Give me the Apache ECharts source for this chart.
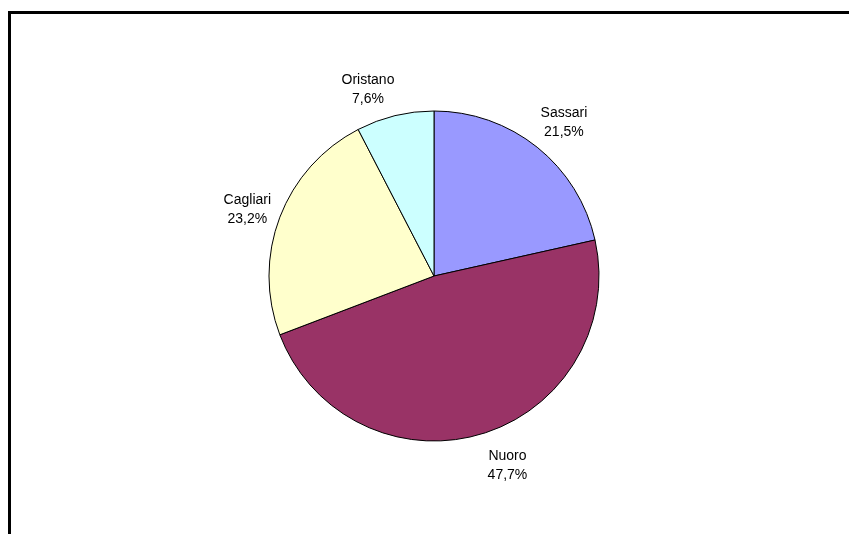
<!DOCTYPE html>
<html>
<head>
<meta charset="utf-8">
<script src="https://cdn.jsdelivr.net/npm/echarts@6/dist/echarts.min.js"></script>
<style>
  html, body { margin: 0; padding: 0; background: #fff; }
  #chart { width: 849px; height: 534px; }
</style>
</head>
<body>
<div id="chart"></div>
<script>
const provinces = ['Sassari', 'Nuoro', 'Cagliari', 'Oristano']
const shares = [21.5, 47.7, 23.2, 7.6]
const sliceColors = ['#9999FF', '#993366', '#FFFFCC', '#CCFFFF']
// small nudges so labels sit where the original ones do
const labelNudge = [[3, 5], [15, -5], [3, 6], [-18, 11]]

const chart = echarts.init(document.getElementById('chart'), null, { renderer: 'canvas' })

const pieData = provinces.map((name, i) => ({
  name,
  value: shares[i],
  itemStyle: { color: sliceColors[i] },
}))

// invisible ring only used to carry the labels round the pie
const labelData = provinces.map((name, i) => ({
  name,
  value: shares[i],
  label: { offset: labelNudge[i] },
}))

const fmt = (p) => p.name + '\n' + p.value.toFixed(1).replace('.', ',') + '%'

chart.setOption({
  animation: false,
  graphic: [
    {
      type: 'polyline',
      shape: { points: [[9.5, 534], [9.5, 12.5], [849, 12.5]] },
      style: { stroke: '#000', lineWidth: 3, fill: null },
      silent: true,
    },
  ],
  series: [
    {
      type: 'pie',
      center: [434, 276],
      radius: 165,
      startAngle: 90,
      clockwise: true,
      data: pieData,
      label: { show: false },
      labelLine: { show: false },
      itemStyle: { borderColor: '#000', borderWidth: 1 },
      emphasis: { disabled: true },
      silent: true,
    },
    {
      type: 'pie',
      center: [434, 276],
      radius: [190, 210],
      startAngle: 90,
      clockwise: true,
      data: labelData,
      itemStyle: { color: 'rgba(0,0,0,0)' },
      label: {
        show: true,
        position: 'inside',
        formatter: fmt,
        color: '#000',
        fontFamily: 'Liberation Sans, Arial, sans-serif',
        fontSize: 14,
        lineHeight: 19,
        align: 'center',
      },
      labelLine: { show: false },
      emphasis: { disabled: true },
      silent: true,
    },
  ],
})
</script>
</body>
</html>
